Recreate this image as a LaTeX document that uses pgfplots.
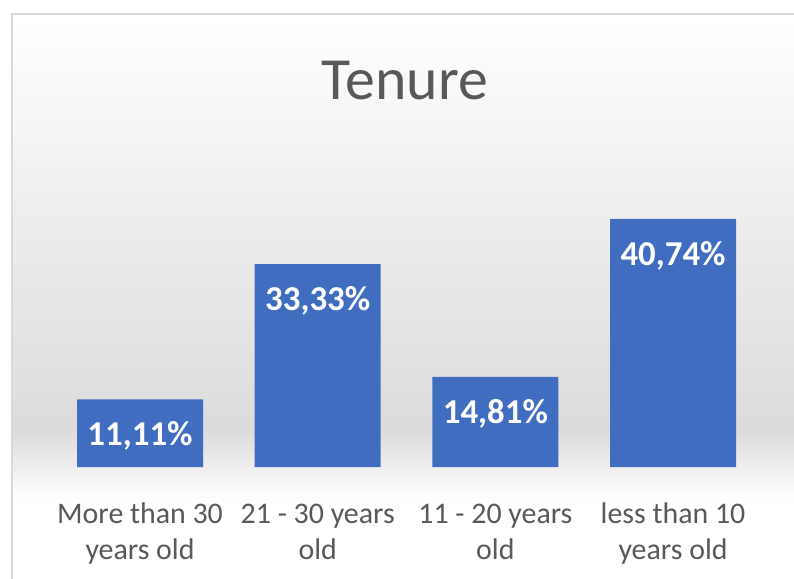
\documentclass[border=0pt]{standalone}
\usepackage{fontspec}
\setmainfont{Carlito}
\usepackage{pgfplots}
\pgfplotsset{compat=1.18}
\definecolor{txt}{HTML}{595959}
\definecolor{barblue}{HTML}{416DC1}
\definecolor{frame}{HTML}{D9D9D9}
\begin{document}
\begin{tikzpicture}
\useasboundingbox (0bp,0bp) rectangle (794bp,579bp);
\fill[white] (0bp,0bp) rectangle (794bp,579bp);
\shade[top color=white, bottom color=black!14] (12bp,149bp) rectangle (794bp,565bp);
\shade[top color=black!14, bottom color=white] (12bp,79bp) rectangle (794bp,149bp);
\draw[frame, line width=2bp] (12bp,0bp) -- (12bp,565bp) -- (800bp,565bp);
\node[anchor=base, text=txt, font=\fontsize{60}{66}\selectfont, inner sep=0pt] at (405bp,479bp) {Tenure};
\begin{axis}[
  at={(51.2bp,112bp)}, anchor=south west,
  scale only axis, width=710.7bp, height=274bp,
  xmin=-0.5, xmax=3.5, ymin=0, ymax=45,
  clip=false,
  axis line style={draw=none},
  tick style={draw=none},
  ytick=\empty,
  xtick={0,1,2,3},
  xticklabels={\strut More than 30\\\strut years old, \strut 21 - 30 years\\\strut old, \strut 11 - 20 years\\\strut old, \strut less than 10\\\strut years old},
  xticklabel style={anchor=north, inner sep=0pt, yshift=-27bp, align=center, text=txt, font=\fontsize{30}{36}\selectfont},
  ybar, bar width=126bp,
  nodes near coords,
  point meta=explicit symbolic,
  every node near coord/.append style={anchor=north, inner sep=0pt, yshift=-22bp, text=white, font=\fontsize{35}{40}\selectfont\bfseries},
]
\addplot[fill=barblue, draw=none] coordinates {
  (0,11.11) [11,11\%]
  (1,33.33) [33,33\%]
  (2,14.81) [14,81\%]
  (3,40.74) [40,74\%]
};
\end{axis}
\end{tikzpicture}
\end{document}
